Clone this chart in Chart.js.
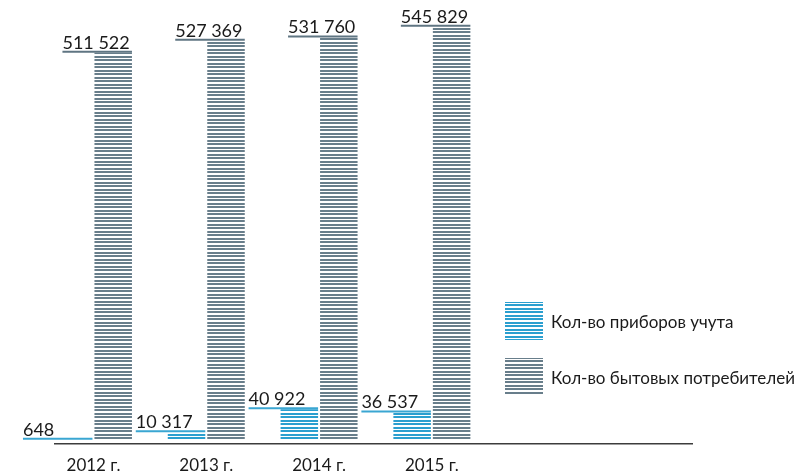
<!DOCTYPE html>
<html><head><meta charset="utf-8">
<script src="https://cdn.jsdelivr.net/npm/chart.js@4/dist/chart.umd.min.js"></script>
<style>html,body{margin:0;padding:0;background:#fff;}#wrap{width:794px;height:475px;}</style>
</head><body><div id="wrap"><canvas id="c" width="794" height="475"></canvas></div>
<script>
const categories = ['2012 г.', '2013 г.', '2014 г.', '2015 г.'];
const seriesNames = ['Кол-во приборов учута', 'Кол-во бытовых потребителей'];
const meters = [648, 10317, 40922, 36537];
const consumers = [511522, 527369, 531760, 545829];

const FONT = 'Lato, "Open Sans", sans-serif';
const BLUE = '#2b9fcf', GREY = '#687e8b';
const BLUE_LINE = '#3aa6d2', GREY_LINE = '#5f7582';

const cv = document.getElementById('c');
const ctx = cv.getContext('2d');
function stripes(color) {
  const p = document.createElement('canvas');
  p.width = 4; p.height = 7;
  const g = p.getContext('2d');
  g.fillStyle = '#ffffff'; g.fillRect(0, 0, 4, 7);
  g.fillStyle = color; g.fillRect(0, 0, 4, 2); g.fillRect(0, 3, 4, 2);
  return ctx.createPattern(p, 'repeat');
}
function fmt(n) { return String(n).replace(/\B(?=(\d{3})+(?!\d))/g, ' '); }

const overlay = {
  id: 'overlay',
  afterDatasetsDraw(chart) {
    const c = chart.ctx;
    const lineCols = [BLUE_LINE, GREY_LINE];
    chart.data.datasets.forEach((ds, di) => {
      const meta = chart.getDatasetMeta(di);
      meta.data.forEach((bar, i) => {
        const p = bar.getProps(['x', 'y', 'width'], true);
        const left = p.x - p.width / 2, right = p.x + p.width / 2;
        const start = left - 32;
        c.save();
        c.strokeStyle = lineCols[di]; c.lineWidth = 2;
        c.beginPath(); c.moveTo(start, p.y - 1); c.lineTo(right, p.y - 1); c.stroke();
        c.font = '18px ' + FONT; c.fillStyle = '#1a1a1a';
        c.textAlign = 'left'; c.textBaseline = 'alphabetic';
        c.fillText(fmt(ds.data[i].y), start, p.y - 4);
        c.restore();
      });
    });
    // legend
    const lx = 505, box = 38, ys = [302, 358];
    chart.data.datasets.forEach((ds, di) => {
      c.save();
      c.fillStyle = ds.backgroundColor;
      c.fillRect(lx, ys[di], box, box - di * 2);
      c.font = '17px ' + FONT; c.fillStyle = '#1a1a1a';
      c.textAlign = 'left'; c.textBaseline = 'middle';
      c.fillText(ds.label, lx + box + 8, ys[di] + box / 2 + 2);
      c.restore();
    });
  }
};

new Chart(ctx, {
  type: 'bar',
  data: {
    datasets: [
      { label: seriesNames[0], data: meters.map((v, i) => ({ x: i, y: v })), backgroundColor: stripes(BLUE) },
      { label: seriesNames[1], data: consumers.map((v, i) => ({ x: i, y: v })), backgroundColor: stripes(GREY) }
    ]
  },
  options: {
    responsive: false, animation: false,
    layout: { padding: { left: 55, right: 102, top: 10, bottom: -13 } },
    plugins: { legend: { display: false }, tooltip: { enabled: false } },
    datasets: { bar: { categoryPercentage: 0.70, barPercentage: 0.95 } },
    scales: {
      x: {
        type: 'linear', min: -0.341, max: 5.306, offset: false,
        afterBuildTicks: (s) => { s.ticks = categories.map((_, i) => ({ value: i })); },
        grid: { display: false, drawTicks: false },
        border: { display: true, color: '#3c3c3c', width: 1.5 },
        ticks: { padding: 12, color: '#1a1a1a', font: { family: FONT, size: 17 }, autoSkip: false, maxRotation: 0,
          callback: (v) => categories[v] ?? '' }
      },
      y: { display: false, min: -4600, max: 568000 }
    }
  },
  plugins: [overlay]
});
</script></body></html>
